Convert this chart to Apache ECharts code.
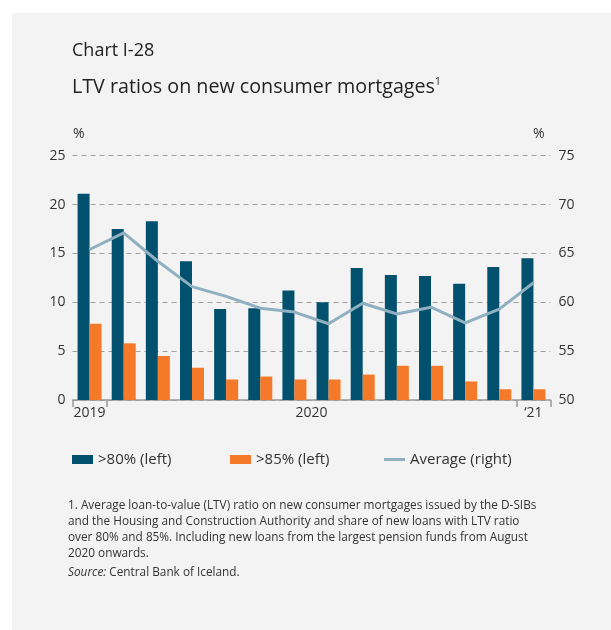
<!DOCTYPE html>
<html>
<head>
<meta charset="utf-8">
<script src="https://cdn.jsdelivr.net/npm/echarts@6/dist/echarts.min.js"></script>
<style>
  html, body { margin: 0; padding: 0; background: #ffffff; }
  #chart { width: 611px; height: 630px; }
</style>
</head>
<body>
<div id="chart"></div>
<script>
// Periods: 2019 average, then 2020 months, then January 2021
const categories = ['2019', 'Jan 2020', 'Feb 2020', 'Mar 2020', 'Apr 2020', 'May 2020', 'Jun 2020',
  'Jul 2020', 'Aug 2020', 'Sep 2020', 'Oct 2020', 'Nov 2020', 'Dec 2020', 'Jan 2021'];
// Share of new loans with LTV over 80% (left axis, %)
const over80 = [21.1, 17.5, 18.3, 14.2, 9.3, 9.4, 11.2, 10.0, 13.5, 12.8, 12.7, 11.9, 13.6, 14.5];
// Share of new loans with LTV over 85% (left axis, %)
const over85 = [7.8, 5.8, 4.5, 3.3, 2.1, 2.4, 2.1, 2.1, 2.6, 3.5, 3.5, 1.9, 1.1, 1.1];
// Average LTV ratio (right axis, %)
const averageLtv = [65.4, 67.1, 64.2, 61.6, 60.6, 59.4, 59.0, 57.8, 59.9, 58.8, 59.5, 57.9, 59.3, 62.0];
// Year labels on the time axis and the boundaries between years
const yearLabels = [{ pos: 0.5, text: '2019' }, { pos: 7, text: '2020' }, { pos: 13.5, text: '\u201821' }];
const yearBreaks = [0, 1, 13, 14];
const leftTicks = [0, 5, 10, 15, 20, 25];
const rightTicks = [50, 55, 60, 65, 70, 75];

const FONT_NAME = '"Open Sans", "Noto Sans", sans-serif';
const TXT = '#333333';

const chart = echarts.init(document.getElementById('chart'), null, { renderer: 'canvas' });

const footnote = [
  '1. Average loan-to-value (LTV) ratio on new consumer mortgages issued by the D-SIBs',
  'and the Housing and Construction Authority and share of new loans with LTV ratio',
  'over 80% and 85%. Including new loans from the largest pension funds from August',
  '2020 onwards.'
].join('\n');

const legendText = { fontSize: 15, color: TXT, fontFamily: FONT_NAME };

chart.setOption({
  animation: false,
  backgroundColor: '#ffffff',
  textStyle: { fontFamily: FONT_NAME },
  graphic: [
    { type: 'rect', z: -10, shape: { x: 12, y: 13, width: 599, height: 617 }, style: { fill: '#f3f3f3' } },
    { type: 'text', left: 72, top: 42, style: { text: 'Chart I-28', fontSize: 18, fontFamily: FONT_NAME, fill: '#222222' } },
    { type: 'text', left: 72, top: 77, style: {
        text: 'LTV ratios on new consumer mortgages{s|1}',
        rich: { s: { fontSize: 10, fontFamily: FONT_NAME, verticalAlign: 'top', padding: [0, 0, 10, 0] } },
        fontSize: 19.7, fontFamily: FONT_NAME, fill: '#222222' } },
    { type: 'text', left: 73, top: 127, style: { text: '%', fontSize: 14, fontFamily: FONT_NAME, fill: TXT } },
    { type: 'text', left: 533, top: 127, style: { text: '%', fontSize: 14, fontFamily: FONT_NAME, fill: TXT } },
    { type: 'text', left: 68, top: 498, style: { text: footnote, fontSize: 11.8, fontFamily: FONT_NAME, fill: TXT, lineHeight: 15.8 } },
    { type: 'text', left: 68, top: 567, style: {
        text: '{i|Source:} {n|Central Bank of Iceland.}',
        rich: {
          i: { fontStyle: 'italic', fontSize: 11.8, fontFamily: FONT_NAME, fill: TXT },
          n: { fontSize: 11.8, fontFamily: FONT_NAME, fill: TXT }
        },
        fontSize: 11.8, fontFamily: FONT_NAME, fill: TXT } }
  ],
  legend: [
    { left: 67, top: 447, itemWidth: 21, itemHeight: 9, data: [{ name: '>80% (left)', icon: 'rect' }],
      textStyle: legendText },
    { left: 225, top: 447, itemWidth: 21, itemHeight: 9, data: [{ name: '>85% (left)', icon: 'rect' }],
      textStyle: legendText },
    { left: 379, top: 447, itemWidth: 21, itemHeight: 3, data: [{ name: 'Average (right)', icon: 'rect' }],
      textStyle: legendText }
  ],
  grid: { left: 72.5, right: 60.5, top: 155.7, bottom: 230, containLabel: false },
  xAxis: [
    {
      type: 'category', data: categories, boundaryGap: true,
      axisLine: { show: true, lineStyle: { color: '#999999', width: 1.5 } },
      axisTick: { show: false }, axisLabel: { show: false }, splitLine: { show: false }
    },
    {
      type: 'value', min: 0, max: 14, position: 'bottom',
      axisLine: { show: false },
      axisTick: { show: true, length: 7, customValues: yearBreaks, lineStyle: { color: '#999999', width: 1.5 } },
      axisLabel: {
        show: true, customValues: yearLabels.map(d => d.pos), margin: 6,
        fontSize: 14, color: TXT, fontFamily: FONT_NAME,
        formatter: v => (yearLabels.find(d => d.pos === v) || {}).text || ''
      },
      splitLine: { show: false }
    }
  ],
  yAxis: [
    {
      type: 'value', min: leftTicks[0], max: leftTicks[leftTicks.length - 1], interval: 5,
      axisLine: { show: false }, axisTick: { show: false },
      axisLabel: { margin: 7, fontSize: 14, color: TXT, fontFamily: FONT_NAME },
      splitLine: { show: true, lineStyle: { color: '#a0a0a0', type: [5, 4], width: 1.2 } }
    },
    {
      type: 'value', min: rightTicks[0], max: rightTicks[rightTicks.length - 1], interval: 5,
      axisLine: { show: false }, axisTick: { show: false },
      axisLabel: { margin: 8, fontSize: 14, color: TXT, fontFamily: FONT_NAME },
      splitLine: { show: false }
    }
  ],
  series: [
    { name: '>80% (left)', type: 'bar', xAxisIndex: 0, yAxisIndex: 0, data: over80,
      barWidth: 12, barGap: '0%', itemStyle: { color: '#00506e' } },
    { name: '>85% (left)', type: 'bar', xAxisIndex: 0, yAxisIndex: 0, data: over85,
      barWidth: 12, barGap: '0%', itemStyle: { color: '#f47a2a' } },
    { name: 'Average (right)', type: 'line', xAxisIndex: 0, yAxisIndex: 1, data: averageLtv,
      symbol: 'none', lineStyle: { color: '#8fb0c0', width: 3 }, itemStyle: { color: '#8fb0c0' }, z: 5 }
  ]
});
</script>
</body>
</html>
